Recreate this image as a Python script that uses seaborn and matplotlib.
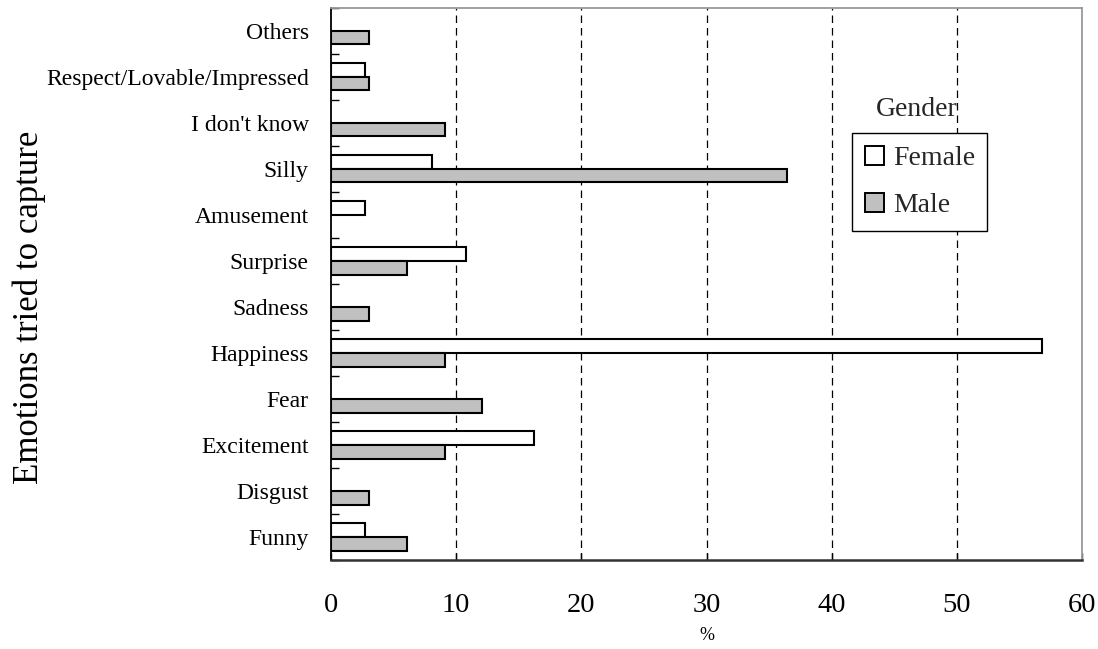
import matplotlib
matplotlib.use("Agg")
import matplotlib.pyplot as plt
import seaborn as sns
import pandas as pd
from matplotlib.ticker import FixedLocator

# Emotions listed top to bottom
emotions = ["Others", "Respect/Lovable/Impressed", "I don't know", "Silly",
            "Amusement", "Surprise", "Sadness", "Happiness", "Fear",
            "Excitement", "Disgust", "Funny"]
# Percent of respondents per emotion
female_pct = [0, 2.7, 0, 8.1, 2.7, 10.8, 0, 56.8, 0, 16.2, 0, 2.7]
male_pct = [3.0, 3.0, 9.1, 36.4, 0, 6.1, 3.0, 9.1, 12.1, 9.1, 3.0, 6.1]
genders = ["Female", "Male"]
x_ticks = [0, 10, 20, 30, 40, 50, 60]

df = pd.DataFrame({
    "emotion": emotions * 2,
    "pct": female_pct + male_pct,
    "gender": ["Female"] * len(emotions) + ["Male"] * len(emotions),
})
df = df[df["pct"] > 0]

sns.set_theme(style="white")
plt.rcParams["font.family"] = ["Liberation Serif", "DejaVu Serif"]

W, H = 1098, 649
fig = plt.figure(figsize=(W / 100, H / 100), dpi=100)
ax = fig.add_axes([331 / W, 1 - 560 / H, 751 / W, 552.5 / H])

sns.barplot(data=df, y="emotion", x="pct", hue="gender", order=emotions,
            hue_order=genders, orient="h", width=0.6,
            palette={"Female": "white", "Male": "#c0c0c0"},
            edgecolor="black", linewidth=1.5, ax=ax, zorder=3)

ax.set_xlim(0, 60)
ax.set_ylim(len(emotions) - 0.5, -0.5)
ax.set_xticks(x_ticks)
ax.set_xticklabels([str(t) for t in x_ticks])

# dashed vertical grid
for t in x_ticks[1:-1]:
    ax.axvline(t, color="black", lw=0.9, ls=(0, (6, 4)), zorder=1)

# category boundary ticks on the y axis
ax.yaxis.set_minor_locator(FixedLocator([i + 0.5 for i in range(-1, len(emotions))]))
ax.tick_params(axis="y", which="minor", direction="in", length=6, width=1,
               color="black", left=True)
ax.tick_params(axis="y", which="major", length=0, pad=16, labelsize=17,
               labelcolor="black")
ax.tick_params(axis="x", which="major", direction="in", length=5, width=1,
               color="black", bottom=True, pad=24, labelsize=20.5,
               labelcolor="black")

for side, col, lw in [("left", "black", 1.3), ("bottom", "#333333", 1.8),
                      ("top", "#999999", 1.3), ("right", "#999999", 1.3)]:
    ax.spines[side].set_visible(True)
    ax.spines[side].set_color(col)
    ax.spines[side].set_linewidth(lw)

ax.set_xlabel("%", fontsize=13, color="black")
ax.xaxis.set_label_coords(0.5, (560 - 636) / 552.5)
ax.xaxis.label.set_va("center")

ax.set_ylabel("Emotions tried to capture", fontsize=25, color="black")
ax.yaxis.set_label_coords((29 - 331) / 751, (560 - 307) / 552.5)
ax.yaxis.label.set_va("center")
ax.yaxis.label.set_ha("center")
ax.yaxis.label.set_rotation_mode("anchor")

sns.move_legend(ax, "upper left", bbox_to_anchor=(852 / W, 1 - 133 / H),
                bbox_transform=fig.transFigure, title=None, fontsize=20,
                handlelength=0.7, handleheight=0.7, handletextpad=0.32,
                borderpad=0.45, labelspacing=0.78, borderaxespad=0,
                frameon=True, fancybox=False, edgecolor="black", framealpha=1)
leg = ax.get_legend()
leg.get_frame().set_linewidth(1.0)
for h in leg.legend_handles:
    h.set_edgecolor("black")
    h.set_linewidth(1.4)

fig.text(917 / W, 1 - 110 / H, "Gender", fontsize=20, ha="center", va="center")

fig.savefig("out.png", dpi=100)
